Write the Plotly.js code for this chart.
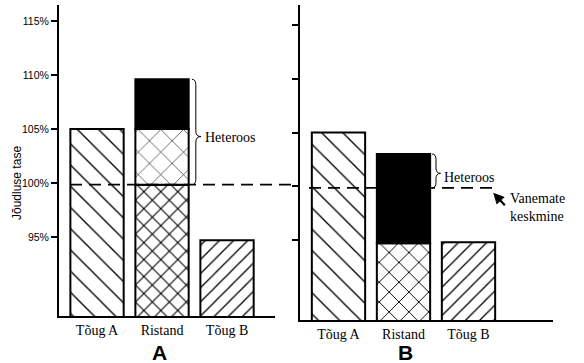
<!DOCTYPE html>
<html>
<head>
<meta charset="utf-8">
<script src="https://cdn.plot.ly/plotly-3.0.1.min.js"></script>
<style>html,body{margin:0;padding:0;background:#fff}#chart{width:584px;height:363px}</style>
</head>
<body>
<div id="chart"></div>
<script>
// ---------- data ----------
const categories = ['Tõug A', 'Ristand', 'Tõug B'];
const tickValues = [95, 100, 105, 110, 115];
const tickLabels = ['95%', '100%', '105%', '110%', '115%'];
// Panel A (heterosis above both parents)
const aBreedA = 105;
const aBreedB = 94.7;
const aCrossLevels = [99.85, 105, 109.6];   // dense hatch top, light hatch top, black top
// Panel B (heterosis relative to parent mean)
const bBreedA = 105;
const bBreedB = 94.8;
const bCrossLevels = [94.7, 103.0];          // hatch top, black top
const parentMean = [99.85, 99.85];           // "Vanemate keskmine" in A and B
const heterosisLabel = 'Heteroos';
const parentMeanLabel = 'Vanemate<br>keskmine';
const yTitle = 'Jõudluse tase';
const panelLetters = ['A', 'B'];

// ---------- styling helpers ----------
const edge = {color: '#000', width: 2};
function hatch(shape, size, solidity) {
  return {color: '#fff', line: edge,
    pattern: {shape: shape, size: size, solidity: solidity, fgcolor: '#000', bgcolor: '#fff', fillmode: 'replace'}};
}
function bar(xa, ya, cat, top, base, marker) {
  const t = {type: 'bar', x: [cat], y: [top - (base || 0)], marker: marker,
    xaxis: xa, yaxis: ya, hoverinfo: 'skip', showlegend: false};
  if (base) t.base = [base];
  return t;
}
const black = {color: '#000', line: edge};

const traces = [
  // Panel A
  bar('x', 'y', categories[0], aBreedA, 0, hatch('\\', 15, 0.09)),
  bar('x', 'y', categories[1], aCrossLevels[0], 0, hatch('x', 12, 0.17)),
  bar('x', 'y', categories[1], aCrossLevels[1], aCrossLevels[0], hatch('x', 16, 0.07)),
  bar('x', 'y', categories[1], aCrossLevels[2], aCrossLevels[1], black),
  bar('x', 'y', categories[2], aBreedB, 0, hatch('/', 10, 0.13)),
  // Panel B
  bar('x2', 'y2', categories[0], bBreedA, 0, hatch('\\', 15, 0.09)),
  bar('x2', 'y2', categories[1], bCrossLevels[0], 0, hatch('x', 14, 0.13)),
  bar('x2', 'y2', categories[1], bCrossLevels[1], bCrossLevels[0], black),
  bar('x2', 'y2', categories[2], bBreedB, 0, hatch('/', 10, 0.13))
];

function brace(xref, yref, x0, xs, xt, ytop, ymid, ybot, r) {
  const p = 'M' + x0 + ',' + ytop +
    ' Q' + xs + ',' + ytop + ' ' + xs + ',' + (ytop - r) +
    ' L' + xs + ',' + (ymid + r) +
    ' Q' + xs + ',' + ymid + ' ' + xt + ',' + ymid +
    ' Q' + xs + ',' + ymid + ' ' + xs + ',' + (ymid - r) +
    ' L' + xs + ',' + (ybot + r) +
    ' Q' + xs + ',' + ybot + ' ' + x0 + ',' + ybot;
  return {type: 'path', xref: xref, yref: yref, path: p, line: {color: '#000', width: 1}};
}

const serif = {family: 'Liberation Serif', size: 14, color: '#000'};
const sans = {family: 'Liberation Sans', size: 10.5, color: '#000'};

const shapes = [
  {type: 'line', xref: 'paper', yref: 'y', x0: 70 / 584, x1: 300 / 584, y0: parentMean[0], y1: parentMean[0],
   line: {color: '#000', width: 1.6, dash: '12px,7px'}},
  {type: 'line', xref: 'paper', yref: 'y2', x0: 309 / 584, x1: 496 / 584, y0: parentMean[1], y1: parentMean[1],
   line: {color: '#000', width: 1.6, dash: '12px,7px'}},
  brace('x', 'y', 1.46, 1.52, 1.6, aCrossLevels[2], 104.3, parentMean[0], 0.5),
  brace('x2', 'y2', 1.44, 1.5, 1.57, bCrossLevels[1], 101.2, parentMean[1], 0.5)
];

const annotations = [
  {xref: 'x', yref: 'y', x: 1.63, y: 104.2, text: heterosisLabel, showarrow: false, xanchor: 'left', yanchor: 'middle', font: serif},
  {xref: 'x2', yref: 'y2', x: 1.6, y: 100.8, text: heterosisLabel, showarrow: false, xanchor: 'left', yanchor: 'middle', font: serif},
  {xref: 'x2', yref: 'y2', x: 2.6, y: 98.05, text: parentMeanLabel, showarrow: false, xanchor: 'left', yanchor: 'middle', align: 'left', font: serif},
  {xref: 'x2', yref: 'y2', x: 2.38, y: parentMean[1] - 0.45, text: '', showarrow: true, ax: 13, ay: 14,
   arrowhead: 2, arrowsize: 1, arrowwidth: 2.2, arrowcolor: '#000', standoff: 0},
  {xref: 'paper', yref: 'paper', x: 17 / 584, y: (363 - 183) / 363, text: yTitle, textangle: -90, showarrow: false,
   xanchor: 'center', yanchor: 'middle', font: {family: 'Liberation Sans', size: 12, color: '#000'}},
  {xref: 'paper', yref: 'paper', x: 159 / 584, y: (363 - 352) / 363, text: '<b>' + panelLetters[0] + '</b>', showarrow: false,
   xanchor: 'center', yanchor: 'middle', font: {family: 'Liberation Sans', size: 21, color: '#000'}},
  {xref: 'paper', yref: 'paper', x: 405 / 584, y: (363 - 352) / 363, text: '<b>' + panelLetters[1] + '</b>', showarrow: false,
   xanchor: 'center', yanchor: 'middle', font: {family: 'Liberation Sans', size: 21, color: '#000'}}
];

const xBase = {type: 'category', categoryorder: 'array', categoryarray: categories, showline: true, linecolor: '#000', linewidth: 2,
  ticks: '', showgrid: false, zeroline: false, tickfont: serif, ticklabelstandoff: 0, fixedrange: true};
const yBase = {showline: true, linecolor: '#000', linewidth: 2, ticks: 'outside', ticklen: 6, tickwidth: 2, tickcolor: '#000',
  tickvals: tickValues, ticktext: tickLabels, showgrid: false, zeroline: false, tickfont: sans, fixedrange: true};

const layout = {
  width: 584, height: 363,
  margin: {l: 0, r: 0, t: 0, b: 0},
  paper_bgcolor: '#fff', plot_bgcolor: 'rgba(0,0,0,0)',
  barmode: 'overlay', bargap: 0.18,
  showlegend: false,
  font: serif,
  xaxis: Object.assign({}, xBase, {domain: [59 / 584, 275 / 584], range: [-0.585, 2.738], anchor: 'y'}),
  yaxis: Object.assign({}, yBase, {domain: [47 / 363, 358 / 363], range: [87.69, 116.48], anchor: 'x'}),
  xaxis2: Object.assign({}, xBase, {domain: [300 / 584, 553 / 584], range: [-0.592, 3.3], anchor: 'y2'}),
  yaxis2: Object.assign({}, yBase, {domain: [43 / 363, 358 / 363], range: [87.56, 116.86], anchor: 'x2', showticklabels: false}),
  shapes: shapes,
  annotations: annotations
};

Plotly.newPlot('chart', traces, layout, {displayModeBar: false, staticPlot: true});
</script>
</body>
</html>
